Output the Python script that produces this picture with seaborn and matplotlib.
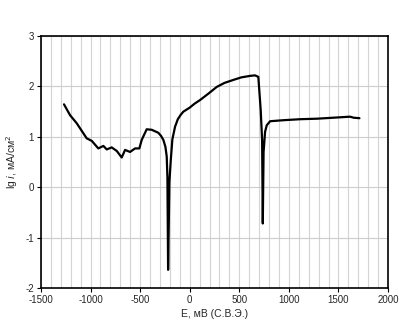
import matplotlib
matplotlib.use("Agg")
import matplotlib.pyplot as plt
import seaborn as sns
import pandas as pd
from matplotlib.ticker import MultipleLocator

E_mV = [-1268, -1207, -1140, -1039, -988, -922, -871, -837, -787, -736, -686, -652,
        -602, -551, -508, -484, -434, -383, -316, -290, -266, -245, -232, -225, -218,
        -205, -191, -175, -148, -120, -90, -64, 0, 50, 104, 190, 272, 350, 440, 520,
        609, 659, 692, 716, 730, 737, 745, 760, 777, 811, 945, 1114, 1283,
        1451, 1618, 1652, 1712]
lg_i = [1.645, 1.43, 1.27, 0.97, 0.92, 0.77, 0.82, 0.75, 0.79, 0.72, 0.59, 0.74,
        0.70, 0.77, 0.77, 0.94, 1.15, 1.14, 1.08, 1.02, 0.94, 0.80, 0.61, 0.20, -1.64,
        0.10, 0.54, 0.95, 1.20, 1.35, 1.44, 1.50, 1.58, 1.66, 1.73, 1.86, 1.99, 2.07,
        2.13, 2.18, 2.21, 2.22, 2.19, 1.53, 0.94, -0.72, 0.70, 1.10, 1.23, 1.31, 1.33,
        1.35, 1.36, 1.38, 1.40, 1.38, 1.37]

x_ticks = [-1500, -1000, -500, 0, 500, 1000, 1500, 2000]
y_ticks = [-2, -1, 0, 1, 2, 3]

sns.set_theme(style="white")
plt.rcParams['font.family'] = ['Liberation Sans', 'DejaVu Sans']
plt.rcParams['axes.unicode_minus'] = False

df = pd.DataFrame({"E": E_mV, "lg": lg_i})
fig = plt.figure(figsize=(4.08, 3.31), dpi=100)
ax = fig.add_axes([0.1005, 0.13, 0.8505, 0.761])
sns.lineplot(data=df, x="E", y="lg", sort=False, estimator=None, color="black",
             linewidth=1.6, ax=ax)
ax.set_xlim(-1500, 2000)
ax.set_ylim(-2, 3)
ax.set_xticks(x_ticks)
ax.set_yticks(y_ticks)
ax.xaxis.set_minor_locator(MultipleLocator(100))
ax.grid(True, which="major", axis="y", color="#cccccc", linewidth=0.8)
ax.grid(True, which="both", axis="x", color="#d4d4d4", linewidth=0.8)
ax.tick_params(axis="both", which="major", direction="out", length=3, width=0.8,
               labelsize=7, color="black", bottom=True, left=True, pad=2)
ax.tick_params(axis="x", which="minor", length=0)
for s in ax.spines.values():
    s.set_color("black")
    s.set_linewidth(1.2)
ax.set_xlabel("E, мВ (С.В.Э.)", fontsize=7.5, labelpad=3)
ax.set_ylabel("lg $\\it{i}$, мА/см$^2$", fontsize=7.5, labelpad=4)
fig.savefig("out.png", dpi=100)
